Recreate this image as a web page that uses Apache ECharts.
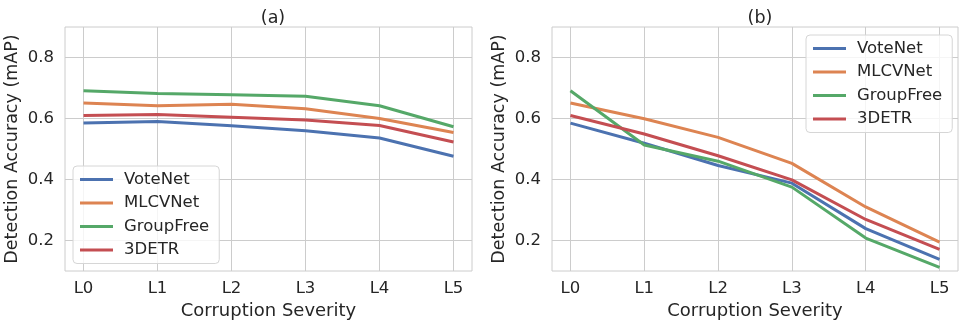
<!DOCTYPE html>
<html>
<head>
<meta charset="utf-8">
<script src="https://cdn.jsdelivr.net/npm/echarts@6/dist/echarts.min.js"></script>
<style>
  html, body { margin: 0; padding: 0; background: #fff; }
  #chart { width: 964px; height: 325px; }
</style>
</head>
<body>
<div id="chart"></div>
<script>
// data
var levels = ['L0', 'L1', 'L2', 'L3', 'L4', 'L5'];
var models = ['VoteNet', 'MLCVNet', 'GroupFree', '3DETR'];
var colors = ['#4c72b0', '#dd8452', '#55a868', '#c44e52'];
var yTicks = [0.2, 0.4, 0.6, 0.8];

// (a)
var voteA = [0.585, 0.590, 0.576, 0.560, 0.536, 0.476];
var mlcvA = [0.651, 0.642, 0.647, 0.632, 0.600, 0.554];
var groupA = [0.691, 0.682, 0.678, 0.673, 0.642, 0.573];
var detrA = [0.610, 0.613, 0.604, 0.595, 0.577, 0.523];

// (b)
var voteB = [0.585, 0.519, 0.446, 0.388, 0.239, 0.138];
var mlcvB = [0.651, 0.599, 0.538, 0.453, 0.310, 0.195];
var groupB = [0.691, 0.513, 0.460, 0.375, 0.208, 0.112];
var detrB = [0.610, 0.549, 0.478, 0.399, 0.269, 0.171];

var chart = echarts.init(document.getElementById('chart'));
var txt = '#262626';
var font = 'DejaVu Sans';

function pts(arr) {
    return arr.map(function (v, i) { return [i, v]; });
}

function xAxis(idx) {
    return {
        type: 'value', gridIndex: idx, min: -0.25, max: 5.25,
        name: 'Corruption Severity', nameLocation: 'middle', nameGap: 30,
        nameTextStyle: { color: txt, fontSize: 18, fontFamily: font },
        axisLine: { show: false },
        axisTick: { show: false, customValues: [0, 1, 2, 3, 4, 5] },
        axisLabel: {
            customValues: [0, 1, 2, 3, 4, 5], margin: 9,
            color: txt, fontSize: 16.5, fontFamily: font,
            formatter: function (v) { return levels[Math.round(v)]; }
        },
        splitLine: { show: true, lineStyle: { color: '#cccccc', width: 1 } }
    };
}

function yAxis(idx) {
    return {
        type: 'value', gridIndex: idx, min: 0.1, max: 0.9,
        name: 'Detection Accuracy (mAP)', nameLocation: 'middle', nameGap: 44,
        nameTextStyle: { color: txt, fontSize: 17.5, fontFamily: font },
        axisLine: { show: false },
        axisTick: { show: false, customValues: yTicks },
        axisLabel: {
            customValues: yTicks, margin: 11,
            color: txt, fontSize: 16.5, fontFamily: font,
            formatter: function (v) { return v.toFixed(1); }
        },
        splitLine: { show: true, lineStyle: { color: '#cccccc', width: 1 } }
    };
}

var seriesA = [voteA, mlcvA, groupA, detrA];
var seriesB = [voteB, mlcvB, groupB, detrB];
var series = [];
[seriesA, seriesB].forEach(function (group, g) {
    group.forEach(function (arr, i) {
        series.push({
            name: models[i], type: 'line', xAxisIndex: g, yAxisIndex: g,
            data: pts(arr), symbol: 'none', color: colors[i],
            lineStyle: { width: 3, color: colors[i] }
        });
    });
});

function legend(left, top) {
    return {
        data: models.map(function (m) { return { name: m, icon: 'rect' }; }),
        orient: 'vertical', left: left, top: top,
        itemWidth: 33, itemHeight: 3, itemGap: 6.5,
        padding: [5, 10, 5, 7],
        backgroundColor: 'rgba(255,255,255,0.8)',
        borderColor: '#d6d6d6', borderWidth: 1, borderRadius: 4,
        selectedMode: false,
        textStyle: { color: txt, fontSize: 16.5, fontFamily: font, padding: [0, 0, 0, 6] }
    };
}

var option = {
    backgroundColor: '#ffffff',
    animation: false,
    title: [
        { text: '(a)', left: 268, top: 4, textAlign: 'center',
          textStyle: { color: txt, fontSize: 17.5, fontWeight: 'normal', fontFamily: font } },
        { text: '(b)', left: 755, top: 4, textAlign: 'center',
          textStyle: { color: txt, fontSize: 17.5, fontWeight: 'normal', fontFamily: font } }
    ],
    grid: [
        { left: 65, width: 407, top: 27, height: 244, show: true, borderColor: '#cccccc', borderWidth: 1, backgroundColor: 'transparent' },
        { left: 552, width: 406, top: 27, height: 244, show: true, borderColor: '#cccccc', borderWidth: 1, backgroundColor: 'transparent' }
    ],
    xAxis: [xAxis(0), xAxis(1)],
    yAxis: [yAxis(0), yAxis(1)],
    legend: [legend(73, 166), legend(806, 35)],
    series: series
};

chart.setOption(option);
</script>
</body>
</html>
